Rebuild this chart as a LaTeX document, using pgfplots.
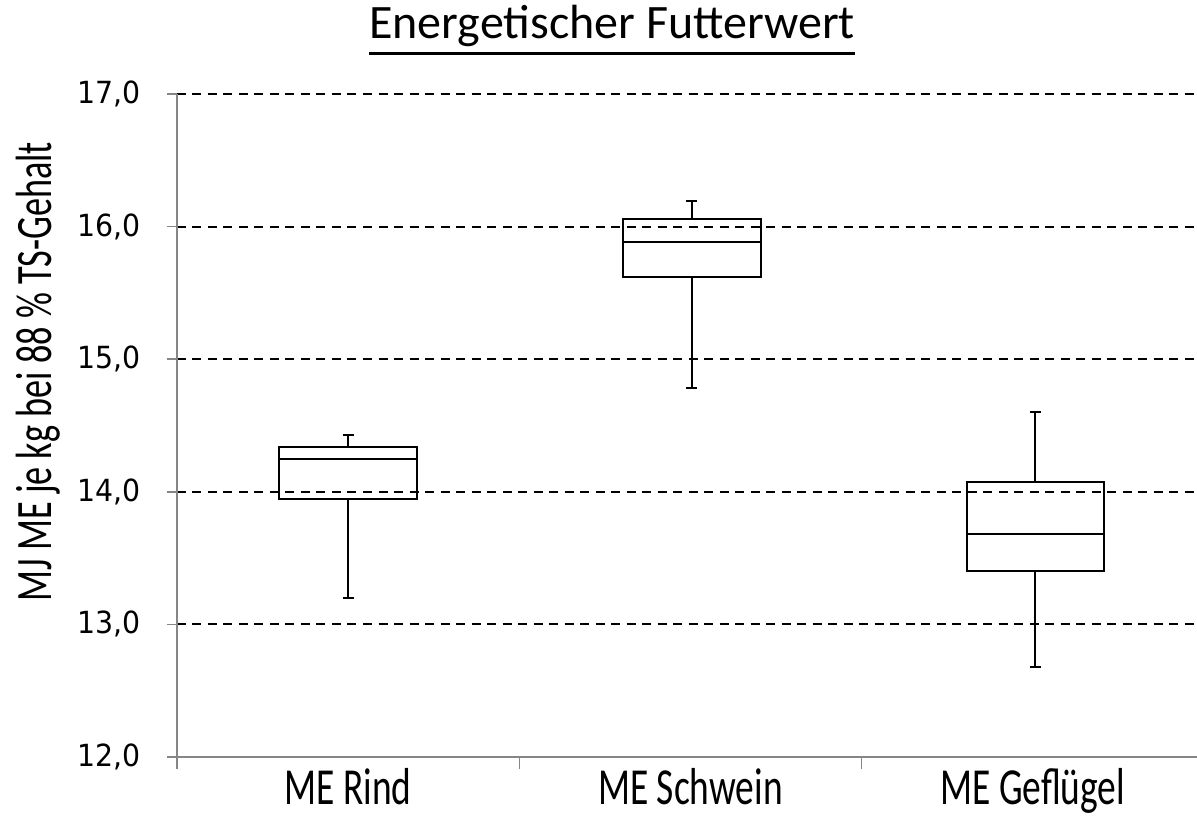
\documentclass[border=0pt]{standalone}
\usepackage{fontspec}
\setmainfont{Carlito}
\newfontfamily\labfont[FakeStretch=0.71]{Carlito}
\newfontfamily\catfont[FakeStretch=0.72]{Carlito}
\newfontfamily\tickfont[FakeStretch=0.93]{DejaVu Sans}
\usepackage{pgfplots}
\pgfplotsset{compat=1.18}
\definecolor{axgray}{RGB}{134,134,134}
\newcommand\ulthick[1]{\leavevmode\vtop{\hbox{#1}\kern5pt\hrule height 3pt}}
\begin{document}
\begin{tikzpicture}
\path[use as bounding box] (-177pt,-66pt) rectangle (1020pt,757pt);
\begin{axis}[
  at={(0pt,0pt)}, anchor=south west,
  scale only axis, width=1020pt, height=663pt,
  xmin=-0.5, xmax=2.48, ymin=12, ymax=17,
  axis x line=bottom, axis y line=left,
  axis line style={-, axgray, line width=1.5pt},
  xtick={0,1,2},
  xticklabels={ME Rind, ME Schwein, ME Geflügel},
  minor xtick={-0.5,0.5,1.5,2.5},
  major x tick style={draw=none},
  minor x tick style={axgray, line width=1.5pt},
  ytick={12,13,14,15,16,17},
  y tick style={axgray, line width=1.5pt},
  tick align=outside,
  major tick length=10pt, minor tick length=12pt,
  ymajorgrids,
  major grid style={black, line width=2pt, dash pattern=on 9pt off 6.5pt},
  yticklabel style={font=\tickfont\fontsize{30.5}{32}\selectfont, xshift=-23pt},
  /pgf/number format/.cd, fixed, fixed zerofill, precision=1, use comma, assume math mode=true,
  /pgfplots/.cd,
  xticklabel style={font=\catfont\fontsize{52}{56}\selectfont, yshift=2pt},
  ylabel={MJ ME je kg bei 88 \% TS-Gehalt},
  ylabel style={font=\labfont\fontsize{51}{55}\selectfont, at={(axis description cs:-0.1363,0.581)}, anchor=center},
  title={\ulthick{Energetischer Futterwert}},
  title style={font=\fontsize{48}{52}\selectfont, at={(axis description cs:0.4265,1)}, anchor=south, inner sep=0pt, yshift=33pt},
  unbounded coords=jump,
  clip=false,
]
% ME Rind
\addplot[black, line width=2pt, line join=miter, mark=none] coordinates {
 (-0.201,13.945) (0.201,13.945) (0.201,14.34) (-0.201,14.34) (-0.201,13.945) (0.201,13.945)
 (0,nan) (-0.201,14.25) (0.201,14.25)
 (0,nan) (0,14.34) (0,14.428)
 (0,nan) (-0.016,14.428) (0.016,14.428)
 (0,nan) (0,13.945) (0,13.20)
 (0,nan) (-0.016,13.20) (0.016,13.20)
};
% ME Schwein
\addplot[black, line width=2pt, line join=miter, mark=none] coordinates {
 (0.803,15.62) (1.205,15.62) (1.205,16.057) (0.803,16.057) (0.803,15.62) (1.205,15.62)
 (1,nan) (0.803,15.884) (1.205,15.884)
 (1,nan) (1.004,16.057) (1.004,16.19)
 (1,nan) (0.988,16.19) (1.020,16.19)
 (1,nan) (1.004,15.62) (1.004,14.78)
 (1,nan) (0.988,14.78) (1.020,14.78)
};
% ME Gefluegel
\addplot[black, line width=2pt, line join=miter, mark=none] coordinates {
 (1.807,13.40) (2.209,13.40) (2.209,14.075) (1.807,14.075) (1.807,13.40) (2.209,13.40)
 (2,nan) (1.807,13.685) (2.209,13.685)
 (2,nan) (2.008,14.075) (2.008,14.603)
 (2,nan) (1.992,14.603) (2.024,14.603)
 (2,nan) (2.008,13.40) (2.008,12.677)
 (2,nan) (1.992,12.677) (2.024,12.677)
};
\end{axis}
\end{tikzpicture}
\end{document}
